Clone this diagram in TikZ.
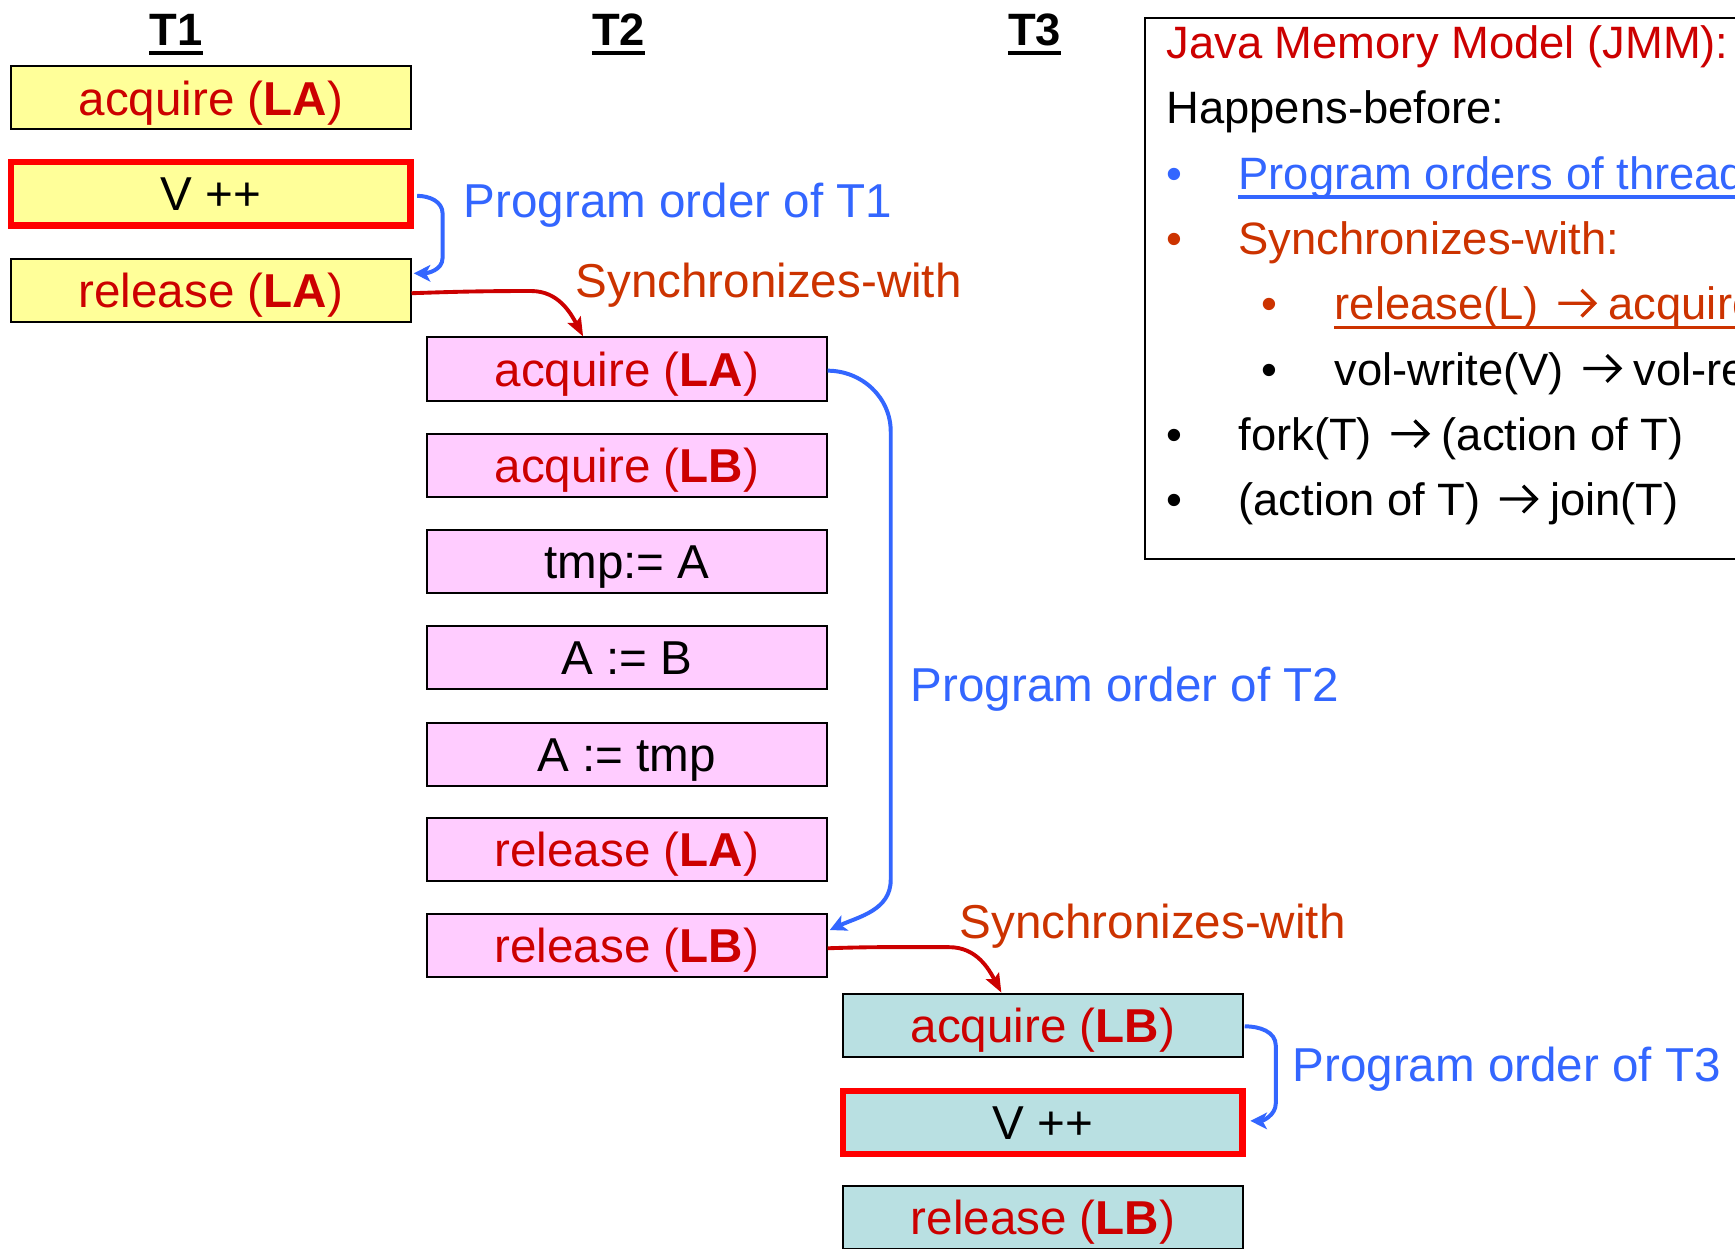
\documentclass[tikz,border=0pt]{standalone}
\usepackage{fontspec}
\setmainfont{Liberation Sans}
\usetikzlibrary{arrows.meta}
\definecolor{boxyellow}{HTML}{FFFF99}
\definecolor{boxpink}{HTML}{FFCCFF}
\definecolor{boxcyan}{HTML}{B9E0E2}
\definecolor{opred}{HTML}{CC0000}
\definecolor{swred}{HTML}{CC3300}
\definecolor{poblue}{HTML}{3366FF}
\newcommand{\lockop}[2]{\textcolor{opred}{#1 (\textbf{#2})}}
% open-headed arrow used inside the legend text
\newcommand{\jarrow}{\hspace{16pt}\tikz[baseline=0pt]{\draw[line width=3pt, draw=.,
  line join=miter, line cap=butt] (0pt,15pt) -- (33pt,15pt)
  (21pt,27pt) -- (33pt,15pt) -- (21pt,3pt);}\hspace{11pt}}
\tikzset{
  opbox/.style={draw=black, line width=1.8pt, minimum width=361pt, minimum height=57pt,
    inner sep=0pt, text height=31pt, text depth=0pt, font=\fontsize{43}{50}\selectfont},
  tone/.style={opbox, fill=boxyellow},
  ttwo/.style={opbox, fill=boxpink},
  tthree/.style={opbox, fill=boxcyan},
  hot/.style={draw=red, line width=6pt},
  thead/.style={inner sep=0pt, anchor=base, font=\fontsize{41}{48}\selectfont\bfseries},
  lbl/.style={inner sep=0pt, anchor=base west, font=\fontsize{43}{50}\selectfont},
  jmm/.style={inner sep=0pt, anchor=base west, font=\fontsize{41}{48}\selectfont},
  po/.style={draw=poblue, line width=3.6pt, -{Stealth[length=15pt,width=15pt,inset=4pt]}},
  sw/.style={draw=opred, line width=3.5pt, -{Stealth[length=17pt,width=13pt,inset=3pt]}},
}
\begin{document}
\begin{tikzpicture}[x=1pt, y=-1pt]
\useasboundingbox (0,0) rectangle (1568,1128);
\clip (0,0) rectangle (1568,1128);
\fill[white] (0,0) rectangle (1568,1128);

% thread headings
\node[thead] (h1) at (159,41) {T1};
\node[thead] (h2) at (559,41) {T2};
\node[thead] (h3) at (935,41) {T3};
\foreach \h in {h1,h2,h3}
  \draw[line width=4pt] ([yshift=-7pt]\h.base west) -- ([yshift=-7pt]\h.base east);

% thread T1
\node[tone] (a1) at (190.5,88.5) {\lockop{acquire}{LA}};
\node[tone, hot] (v1) at (190.5,175) {V ++};
\node[tone] (r1) at (190.5,262.5) {\lockop{release}{LA}};

% thread T2
\node[ttwo] (a2) at (566.5,333.5) {\lockop{acquire}{LA}};
\node[ttwo] (b2) at (566.5,420.5) {\lockop{acquire}{LB}};
\node[ttwo] (s1) at (566.5,507.5) {tmp:= A};
\node[ttwo] (s2) at (566.5,594.5) {A := B};
\node[ttwo] (s3) at (566.5,681.5) {A := tmp};
\node[ttwo] (ra2) at (566.5,768) {\lockop{release}{LA}};
\node[ttwo] (rb2) at (566.5,854.5) {\lockop{release}{LB}};

% thread T3
\node[tthree] (a3) at (942.5,926.5) {\lockop{acquire}{LB}};
\node[tthree, hot] (v3) at (942.5,1014.5) {V ++};
\node[tthree] (r3) at (942.5,1100.5) {\lockop{release}{LB}};

% edge labels
\node[lbl, text=poblue] (po1) at (419,197) {Program order of T1};
\node[lbl, text=swred] (sw1) at (520,269) {Synchronizes-with};
\node[lbl, text=poblue] (po2) at (823,634) {Program order of T2};
\node[lbl, text=swred] (sw2) at (867,848) {Synchronizes-with};
\node[lbl, text=poblue] (po3) at (1168,977) {Program order of T3};

% program order connectors
\draw[po] ([xshift=3pt,yshift=-2pt]v1.east) to[out=0,in=90] (400,193) -- (400,233)
  to[out=-90,in=0] ([xshift=2pt,yshift=15.5pt]r1.east);
\draw[po] ([yshift=-1.5pt]a2.east) to[out=0,in=90] (805,390) -- (805,795)
  to[out=-90,in=25] ([xshift=2pt,yshift=14pt]rb2.east);
\draw[po] ([xshift=1pt,yshift=-1pt]a3.east) to[out=0,in=90] (1153,945) -- (1153,997)
  to[out=-90,in=0] ([xshift=4pt,yshift=1.5pt]v3.east);

% synchronizes-with connectors
\draw[sw] ([yshift=-2.5pt]r1.east) to[out=2,in=180] (480,263)
  to[out=0,in=118] ([xshift=-39.5pt]a2.north);
\draw[sw] ([yshift=-2.5pt]rb2.east) to[out=2,in=180] (858,856)
  to[out=0,in=118] ([xshift=-37.5pt]a3.north);

% legend panel
\draw[line width=1.8pt] (1035,16) rectangle (1620,505);
\node[jmm, text=opred] (j0) at (1054,53) {Java Memory Model (JMM):};
\node[jmm] (j1) at (1054,112) {Happens-before:};
\node[jmm, text=poblue] (b1) at (1054,171) {•};
\node[jmm, text=poblue] (j2) at (1119,171) {Program orders of thread};
\draw[poblue, line width=3pt] ([yshift=-7pt]j2.base west) -- ([yshift=-7pt]j2.base east);
\node[jmm, text=swred] (b2) at (1054,230) {•};
\node[jmm, text=swred] (j3) at (1119,230) {Synchronizes-with:};
\node[jmm, text=swred] (b3) at (1140,289) {•};
\node[jmm, text=swred] (j4) at (1206,289) {release(L)\jarrow acquire};
\draw[swred, line width=3pt] ([yshift=-7pt]j4.base west) -- ([yshift=-7pt]j4.base east);
\node[jmm] (b4) at (1140,348) {•};
\node[jmm] (j5) at (1206,348) {vol-write(V)\jarrow vol-re};
\node[jmm] (b5) at (1054,407) {•};
\node[jmm] (j6) at (1119,407) {fork(T)\jarrow(action of T)};
\node[jmm] (b6) at (1054,466) {•};
\node[jmm] (j7) at (1119,466) {(action of T)\jarrow join(T)};
\end{tikzpicture}
\end{document}
